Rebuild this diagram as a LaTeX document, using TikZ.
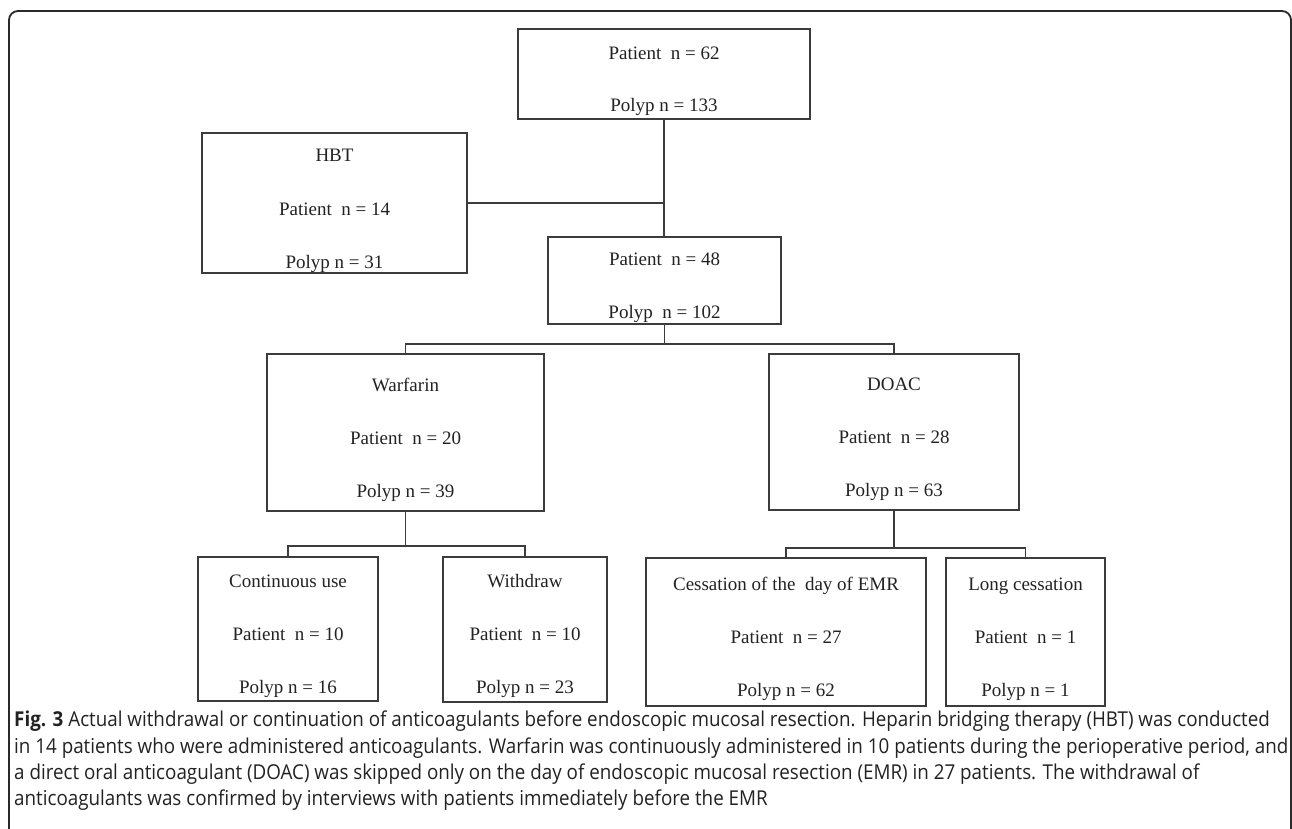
\documentclass[tikz,border=0pt]{standalone}
\usepackage{fontspec}
\setmainfont{Liberation Serif}
\newfontfamily\capfont[FakeStretch=0.917]{Open Sans}
\definecolor{linegray}{HTML}{3C3C3C}
\definecolor{framegray}{HTML}{2A2A2A}
\definecolor{textgray}{HTML}{222222}

\begin{document}
\begin{tikzpicture}[x=1pt, y=-1pt,
    box/.style={draw=linegray, line width=1.3pt, inner sep=0pt},
    txt/.style={anchor=base, inner sep=0pt, text=textgray, font=\fontsize{19}{23}\selectfont},
    link/.style={draw=linegray, line width=1.3pt}]
    \clip (0,0) rectangle (1292,829);

    % outer frame (cut at the bottom)
    \draw[framegray, line width=1.8pt, rounded corners=9pt] (9,840) -- (9,11) -- (1291,11) -- (1291,840);

    % all patients
    \node[box, minimum width=292, minimum height=90] (allpat) at (664,74) {};
    \node[txt] (allpatp) at (664,60) {Patient\ \ n = 62};
    \node[txt] (allpatq) at (664,112) {Polyp n = 133};

    % HBT
    \node[box, minimum width=265, minimum height=140] (hbt) at (334.5,203) {};
    \node[txt] (hbtname) at (334.5,162) {HBT};
    \node[txt] (hbtp) at (334.5,215) {Patient\ \ n = 14};
    \node[txt] (hbtq) at (334.5,268) {Polyp n = 31};

    % on anticoagulants
    \node[box, minimum width=233, minimum height=87] (onanti) at (664.5,280.5) {};
    \node[txt] (onantip) at (664.5,265) {Patient\ \ n = 48};
    \node[txt] (onantiq) at (664.5,318) {Polyp\ \ n = 102};

    % Warfarin
    \node[box, minimum width=277, minimum height=157] (warf) at (405.5,432.5) {};
    \node[txt] (warfname) at (405.5,391) {Warfarin};
    \node[txt] (warfp) at (405.5,444) {Patient\ \ n = 20};
    \node[txt] (warfq) at (405.5,497) {Polyp n = 39};

    % DOAC
    \node[box, minimum width=250, minimum height=156] (doac) at (894,432) {};
    \node[txt] (doacname) at (894,390) {DOAC};
    \node[txt] (doacp) at (894,443) {Patient\ \ n = 28};
    \node[txt] (doacq) at (894,496) {Polyp n = 63};

    % Warfarin branches
    \node[box, minimum width=180, minimum height=144] (contuse) at (288,629) {};
    \node[txt] (contusename) at (288,587) {Continuous use};
    \node[txt] (contusep) at (288,640) {Patient\ \ n = 10};
    \node[txt] (contuseq) at (288,693) {Polyp n = 16};

    \node[box, minimum width=164, minimum height=145] (withdr) at (525,629.5) {};
    \node[txt] (withdrname) at (525,587) {Withdraw};
    \node[txt] (withdrp) at (525,640) {Patient\ \ n = 10};
    \node[txt] (withdrq) at (525,693) {Polyp n = 23};

    % DOAC branches
    \node[box, minimum width=280, minimum height=148] (cessday) at (786,632) {};
    \node[txt] (cessdayname) at (786,590) {Cessation of the\ \ day of EMR};
    \node[txt] (cessdayp) at (786,643) {Patient\ \ n = 27};
    \node[txt] (cessdayq) at (786,696) {Polyp n = 62};

    \node[box, minimum width=159, minimum height=148] (longcess) at (1025.5,632) {};
    \node[txt] (longcessname) at (1025.5,590) {Long cessation};
    \node[txt] (longcessp) at (1025.5,643) {Patient\ \ n = 1};
    \node[txt] (longcessq) at (1025.5,696) {Polyp n = 1};

    % connectors
    \coordinate (fork1) at (664.5,344);
    \coordinate (fork2) at (405.5,546);
    \coordinate (fork3) at (894,548);
    \draw[link] (allpat.south) -- (allpat.south |- onanti.north);
    \draw[link] (hbt.east) -- (hbt.east -| allpat.south);
    \draw[link] (onanti.south) -- (fork1);
    \draw[link] (warf.north) |- (fork1) -| (doac.north);
    \draw[link] (warf.south) -- (fork2);
    \draw[link] (contuse.north) |- (fork2) -| (withdr.north);
    \draw[link] (doac.south) -- (fork3);
    \draw[link] (cessday.north) |- (fork3) -| (longcess.north);

    % caption
    \node[anchor=north west, align=left, inner sep=0pt, text=textgray,
          font=\capfont\fontsize{20.5}{26.2}\selectfont] (caption) at (14,711)
        {\textbf{Fig. 3} Actual withdrawal or continuation of anticoagulants before endoscopic mucosal resection. Heparin bridging therapy (HBT) was conducted\\
         in 14 patients who were administered anticoagulants. Warfarin was continuously administered in 10 patients during the perioperative period, and\\
         a direct oral anticoagulant (DOAC) was skipped only on the day of endoscopic mucosal resection (EMR) in 27 patients. The withdrawal of\\
         anticoagulants was confirmed by interviews with patients immediately before the EMR};
\end{tikzpicture}
\end{document}
